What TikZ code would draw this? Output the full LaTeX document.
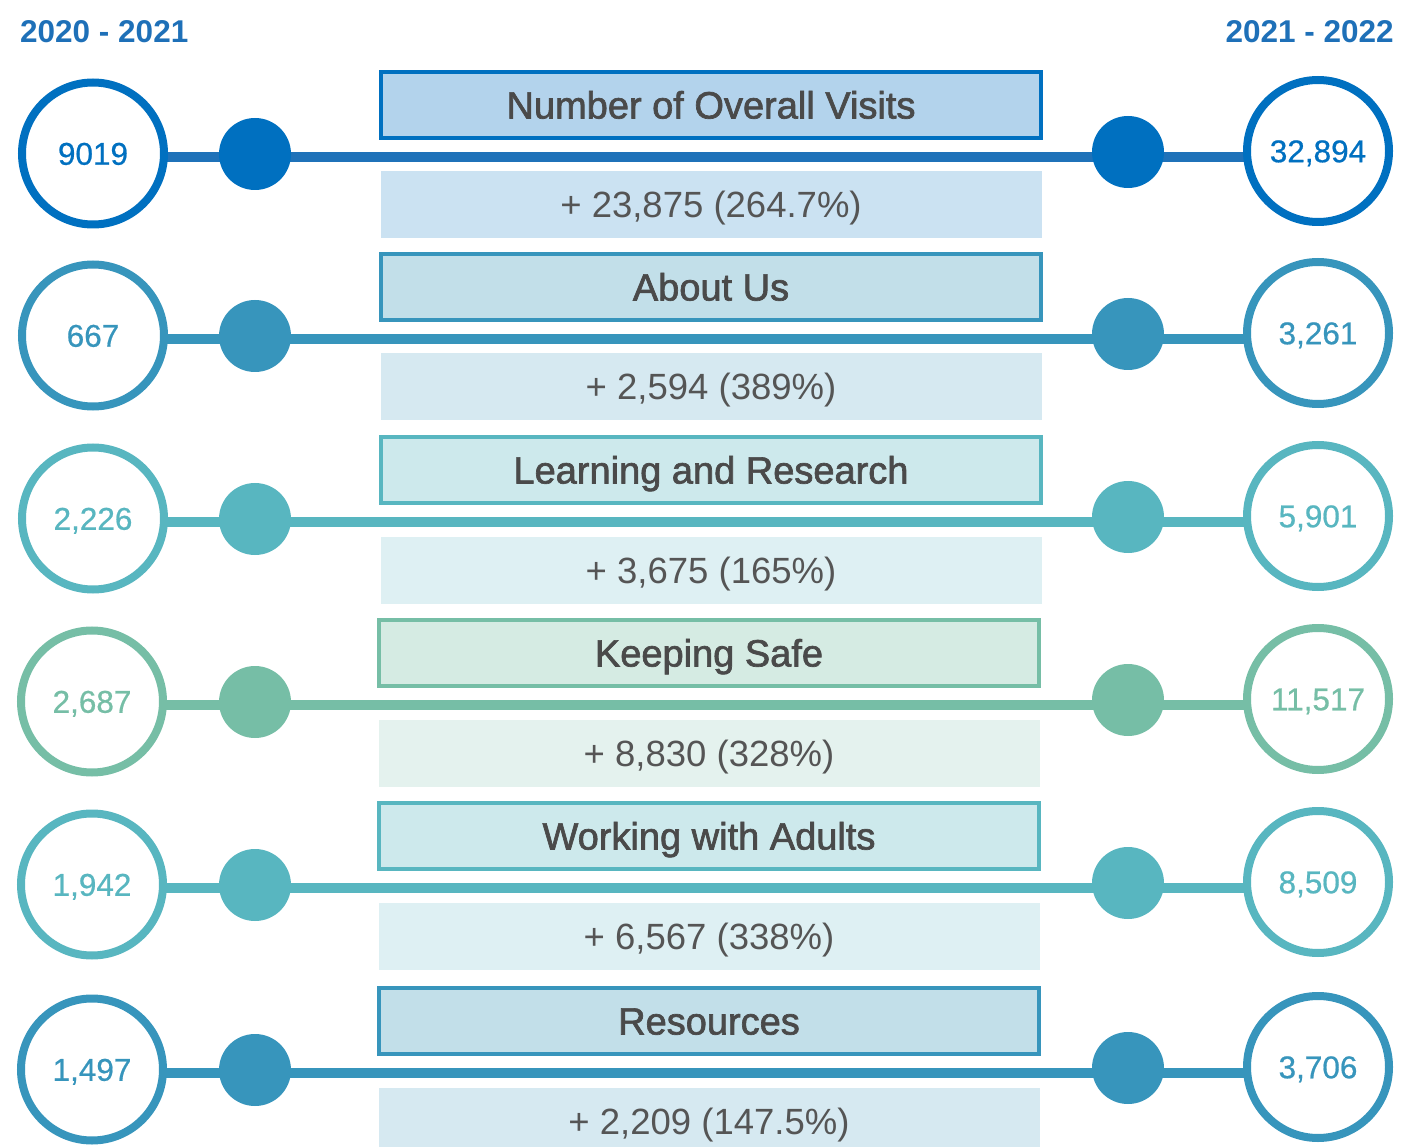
\documentclass[tikz,border=0pt]{standalone}
\usepackage{fontspec}
\setmainfont{Liberation Sans}
\newfontfamily\titlefont[FakeBold=1.8]{Liberation Sans}
\newfontfamily\numfont[FakeBold=0.6]{Liberation Sans}
\definecolor{c1}{HTML}{0070C0}
\definecolor{l1}{HTML}{1F72B9}
\definecolor{f1}{HTML}{B3D3EC}
\definecolor{s1}{HTML}{CBE2F2}
\definecolor{c2}{HTML}{3795BC}
\definecolor{l2}{HTML}{3795BC}
\definecolor{f2}{HTML}{C2DFE9}
\definecolor{s2}{HTML}{D6E9F1}
\definecolor{c3}{HTML}{58B6C0}
\definecolor{l3}{HTML}{58B6C0}
\definecolor{f3}{HTML}{CDE9EC}
\definecolor{s3}{HTML}{DEF0F3}
\definecolor{c4}{HTML}{76BEA6}
\definecolor{l4}{HTML}{76BEA6}
\definecolor{f4}{HTML}{D5EBE3}
\definecolor{s4}{HTML}{E4F2EE}
\definecolor{c5}{HTML}{58B6C0}
\definecolor{l5}{HTML}{58B6C0}
\definecolor{f5}{HTML}{CDE9EC}
\definecolor{s5}{HTML}{DEF0F3}
\definecolor{c6}{HTML}{3795BC}
\definecolor{l6}{HTML}{3795BC}
\definecolor{f6}{HTML}{C2DFE9}
\definecolor{s6}{HTML}{D6E9F1}
\definecolor{hdr}{HTML}{1E70B8}
\definecolor{txtgray}{HTML}{4A4A4A}
\definecolor{subgray}{HTML}{555555}
\begin{document}
\begin{tikzpicture}[x=1pt,y=-1pt,
  numcirc/.style={circle, draw=#1, line width=8pt, fill=white, minimum size=142pt, inner sep=0pt, text=#1, text height=22.5pt, text depth=0pt, font=\numfont\fontsize{31.5}{34}\selectfont},
  dotnode/.style={circle, fill=#1, minimum size=72pt, inner sep=0pt},
  titlebox/.style 2 args={draw=#1, fill=#2, line width=4pt, minimum width=660pt, minimum height=66pt, inner sep=0pt, text=txtgray, text height=27pt, text depth=0pt, font=\titlefont\fontsize{38}{40}\selectfont},
  subbox/.style={fill=#1, minimum width=661pt, minimum height=67pt, inner sep=0pt, text=subgray, text height=26pt, text depth=0pt, font=\fontsize{36.5}{40}\selectfont},
  link/.style={draw=#1, line width=10pt},
  header/.style={text=hdr, inner sep=0pt, text height=22pt, text depth=0pt, font=\bfseries\fontsize{31.5}{34}\selectfont}]
\useasboundingbox (0,0) rectangle (1401,1147);
\node[header, anchor=west] (h1) at (20,32) {2020 - 2021};
\node[header, anchor=east] (h2) at (1394,32) {2021 - 2022};
\foreach \i/\L/\cx/\lx/\lv/\rv/\ttl/\sub in {
  1/157/711/93/9019/{32,894}/{Number of Overall Visits}/{+ 23,875 (264.7\%)},
  2/339/711/93/667/{3,261}/{About Us}/{+ 2,594 (389\%)},
  3/522/711/93/{2,226}/{5,901}/{Learning and Research}/{+ 3,675 (165\%)},
  4/705/709/92/{2,687}/{11,517}/{Keeping Safe}/{+ 8,830 (328\%)},
  5/888/709/92/{1,942}/{8,509}/{Working with Adults}/{+ 6,567 (338\%)},
  6/1073/709/92/{1,497}/{3,706}/{Resources}/{+ 2,209 (147.5\%)}}{
  \coordinate (la\i) at (150,\L);
  \coordinate (ra\i) at (1260,\L);
  \draw[link=l\i] (la\i) -- (ra\i);
  \node[numcirc=c\i] (lc\i) at (\lx,\L-3.5) {\lv};
  \node[numcirc=c\i] (rc\i) at (1318,\L-6) {\rv};
  \node[dotnode=c\i] (ld\i) at (255,\L-3) {};
  \node[dotnode=c\i] (rd\i) at (1128,\L-5) {};
  \node[titlebox={c\i}{f\i}] (t\i) at (\cx,\L-52) {\ttl};
  \node[subbox=s\i] (s\i) at (\cx,\L+48) {\sub};
}
\end{tikzpicture}
\end{document}
